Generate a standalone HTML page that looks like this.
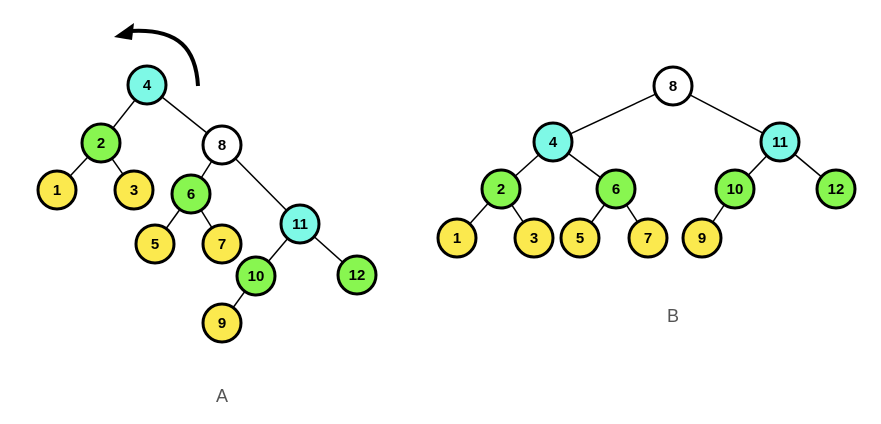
<!DOCTYPE html>
<html><head><style>body{margin:0;background:#fff}svg{display:block}</style></head><body>
<svg width="881" height="424" viewBox="0 0 881 424" xmlns="http://www.w3.org/2000/svg" font-family="Liberation Sans, Arial, sans-serif">
<defs></defs>
<g stroke="#000" stroke-width="1.5">
<line x1="147" y1="85" x2="101" y2="143"/><line x1="147" y1="85" x2="222" y2="145"/>
<line x1="101" y1="143" x2="57" y2="190"/><line x1="101" y1="143" x2="134" y2="190"/>
<line x1="222" y1="145" x2="191" y2="194"/><line x1="222" y1="145" x2="300" y2="224"/>
<line x1="191" y1="194" x2="155" y2="244"/><line x1="191" y1="194" x2="222" y2="244"/>
<line x1="300" y1="224" x2="256" y2="276"/><line x1="300" y1="224" x2="357" y2="275"/>
<line x1="256" y1="276" x2="222" y2="323"/>
<line x1="673" y1="86" x2="553" y2="142"/><line x1="673" y1="86" x2="780" y2="142"/>
<line x1="553" y1="142" x2="501" y2="189"/><line x1="553" y1="142" x2="616" y2="189"/>
<line x1="780" y1="142" x2="735" y2="189"/><line x1="780" y1="142" x2="836" y2="189"/>
<line x1="501" y1="189" x2="457" y2="238"/><line x1="501" y1="189" x2="534" y2="238"/>
<line x1="616" y1="189" x2="580" y2="238"/><line x1="616" y1="189" x2="648" y2="238"/>
<line x1="735" y1="189" x2="702" y2="238"/>
</g>
<path d="M198 86 C196 50 180 28 130 31" fill="none" stroke="#000" stroke-width="4"/>
<polygon points="114,37 134,23 132,40" fill="#000"/>
<g stroke="#000" stroke-width="3" font-size="15" font-weight="bold" text-anchor="middle">
<g fill="#7ef9e6"><circle cx="147" cy="85" r="19"/><circle cx="300" cy="224" r="19"/><circle cx="553" cy="142" r="19"/><circle cx="780" cy="142" r="19"/></g>
<g fill="#fff"><circle cx="222" cy="145" r="19"/><circle cx="673" cy="86" r="19"/></g>
<g fill="#88f650"><circle cx="101" cy="143" r="19"/><circle cx="191" cy="194" r="19"/><circle cx="256" cy="276" r="19"/><circle cx="357" cy="275" r="19"/><circle cx="501" cy="189" r="19"/><circle cx="616" cy="189" r="19"/><circle cx="735" cy="189" r="19"/><circle cx="836" cy="189" r="19"/></g>
<g fill="#fbe94e"><circle cx="57" cy="190" r="19"/><circle cx="134" cy="190" r="19"/><circle cx="155" cy="244" r="19"/><circle cx="222" cy="244" r="19"/><circle cx="222" cy="323" r="19"/><circle cx="457" cy="238" r="19"/><circle cx="534" cy="238" r="19"/><circle cx="580" cy="238" r="19"/><circle cx="648" cy="238" r="19"/><circle cx="702" cy="238" r="19"/></g>
</g>
<g font-size="15" font-weight="bold" text-anchor="middle" fill="#000">
<text x="147" y="90">4</text><text x="300" y="229">11</text><text x="553" y="147">4</text><text x="780" y="147">11</text>
<text x="222" y="150">8</text><text x="673" y="91">8</text>
<text x="101" y="148">2</text><text x="191" y="199">6</text><text x="256" y="281">10</text><text x="357" y="280">12</text>
<text x="501" y="194">2</text><text x="616" y="194">6</text><text x="735" y="194">10</text><text x="836" y="194">12</text>
<text x="57" y="195">1</text><text x="134" y="195">3</text><text x="155" y="249">5</text><text x="222" y="249">7</text><text x="222" y="328">9</text>
<text x="457" y="243">1</text><text x="534" y="243">3</text><text x="580" y="243">5</text><text x="648" y="243">7</text><text x="702" y="243">9</text>
</g>
<g font-size="18" fill="#555" text-anchor="middle"><text x="222" y="402">A</text><text x="673" y="322">B</text></g>
</svg>
</body></html>
